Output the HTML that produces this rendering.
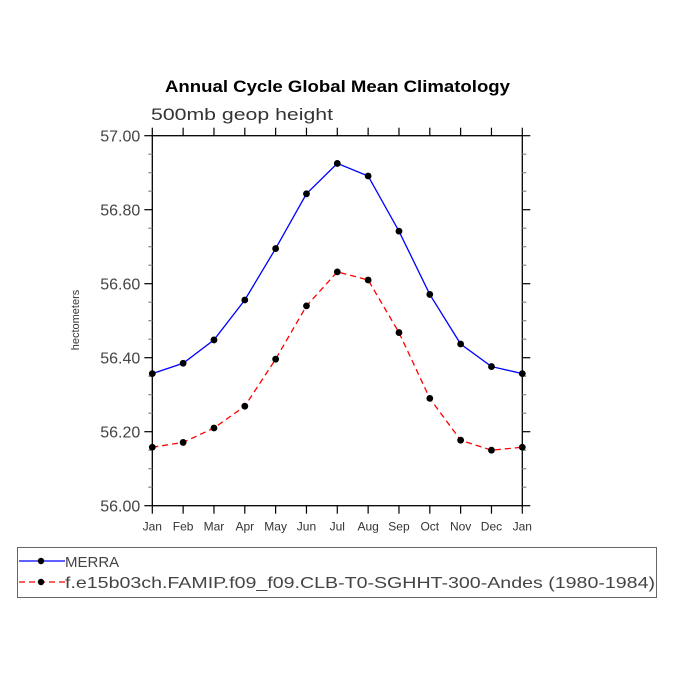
<!DOCTYPE html>
<html><head><meta charset="utf-8"><style>
body{margin:0;background:#fff}
svg text{font-family:"Liberation Sans",sans-serif}
</style></head><body>
<svg width="675" height="675" viewBox="0 0 675 675">
<text x="165" y="92" font-size="17" font-weight="bold" textLength="345" lengthAdjust="spacingAndGlyphs">Annual Cycle Global Mean Climatology</text>
<text x="151" y="120" font-size="17" fill="#333" textLength="182" lengthAdjust="spacingAndGlyphs">500mb geop height</text>
<text transform="translate(79,320) rotate(-90)" text-anchor="middle" font-size="11" fill="#333">hectometers</text>
<g id="axes"></g>
<g id="marks"></g>
<rect x="17.5" y="547.5" width="639" height="50" fill="none" stroke="#666"/>
<line x1="19" y1="561" x2="65" y2="561" stroke="#00f" stroke-width="1.3"/>
<circle cx="41" cy="561" r="3.2" fill="#000"/>
<text x="65" y="567" font-size="15" fill="#444">MERRA</text>
<line x1="19" y1="582" x2="65" y2="582" stroke="#f00" stroke-width="1.3" stroke-dasharray="6,4"/>
<circle cx="41" cy="582" r="3.2" fill="#000"/>
<text x="65" y="588" font-size="16" fill="#444" textLength="590" lengthAdjust="spacingAndGlyphs">f.e15b03ch.FAMIP.f09_f09.CLB-T0-SGHHT-300-Andes (1980-1984)</text>
</svg>
<script>
const months=["Jan","Feb","Mar","Apr","May","Jun","Jul","Aug","Sep","Oct","Nov","Dec","Jan"];
const merra=[56.357,56.385,56.448,56.556,56.695,56.843,56.925,56.891,56.742,56.571,56.437,56.376,56.357];
const model=[56.158,56.171,56.210,56.269,56.396,56.540,56.632,56.610,56.468,56.290,56.177,56.150,56.158];
const yTicks=[56.0,56.2,56.4,56.6,56.8,57.0];
const yMin=56.0,yMax=57.0;
const L=152.3,R=522.3,T=135.7,B=505.7;
const NS="http://www.w3.org/2000/svg";
const xs=i=>L+(R-L)*i/(months.length-1);
const ys=v=>B-(B-T)*(v-yMin)/(yMax-yMin);
function mk(p,tag,at){const e=document.createElementNS(NS,tag);for(const k in at)e.setAttribute(k,at[k]);p.appendChild(e);return e;}
const ax=document.getElementById('axes'),mg=document.getElementById('marks');
const fr=mk(ax,'rect',{x:L,y:T,width:R-L,height:B-T,fill:'none',stroke:'#000','stroke-width':1.3});


months.forEach((m,i)=>{
 const x=xs(i);
 const t1=mk(ax,'line',{x1:x,y1:B,x2:x,y2:B+8,stroke:'#000','stroke-width':1.2});
 
 
 const t2=mk(ax,'line',{x1:x,y1:T,x2:x,y2:T-8,stroke:'#000','stroke-width':1.2});
 
 
 const tx=mk(ax,'text',{x:x,y:B+25,'text-anchor':'middle','font-size':12,fill:'#333'});
 tx.textContent=m;
 
 
});
for(let v=yMin;v<=yMax+1e-9;v+=0.05){
 const y=ys(v);const major=Math.abs(v*10-Math.round(v*10))<1e-6&&Math.round(v*10)%2===0;
 const len=major?8:4;
 const a=mk(ax,'line',{x1:L,y1:y,x2:L-len,y2:y,stroke:major?'#000':'#888','stroke-width':1.2});
 
 
 const b=mk(ax,'line',{x1:R,y1:y,x2:R+len,y2:y,stroke:major?'#000':'#888','stroke-width':1.2});
 
 
}
yTicks.forEach(v=>{
 const t=mk(ax,'text',{x:L-12,y:ys(v)+6,'text-anchor':'end','font-size':16,fill:'#444'});
 t.textContent=v.toFixed(2);
 
 
});
function series(vals,color,dash,name){
 const p=mk(mg,'polyline',{points:vals.map((v,i)=>xs(i)+','+ys(v)).join(' '),fill:'none',stroke:color,'stroke-width':1.3,'stroke-dasharray':dash});
 
 
 vals.forEach((v,i)=>{
  const c=mk(mg,'circle',{cx:xs(i),cy:ys(v),r:3.4,fill:'#000'});
  
  
 });
}
series(merra,'#00f','none','merra');
series(model,'#f00','6,4','model');
</script>
</body></html>
